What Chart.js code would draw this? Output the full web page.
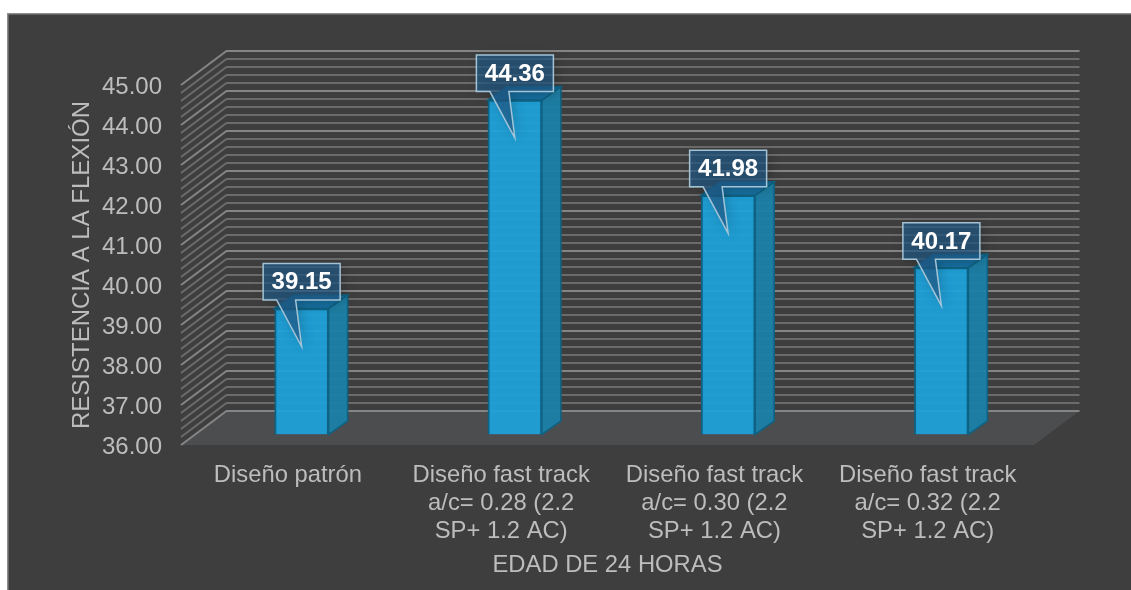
<!DOCTYPE html>
<html lang="es">
<head>
<meta charset="utf-8">
<title>Resistencia a la flexión</title>
<script src="https://cdn.jsdelivr.net/npm/chart.js@4"></script>
<style>
  html, body { margin: 0; padding: 0; background: #ffffff; overflow: hidden; }
  #wrap { position: relative; width: 1131px; height: 590px; }
  canvas { display: block; }
</style>
</head>
<body>
<div id="wrap"><canvas id="chart" width="1131" height="590"></canvas></div>
<script>
const categories = [
  'Diseño patrón',
  ['Diseño fast track', 'a/c= 0.28 (2.2', 'SP+ 1.2 AC)'],
  ['Diseño fast track', 'a/c= 0.30 (2.2', 'SP+ 1.2 AC)'],
  ['Diseño fast track', 'a/c= 0.32 (2.2', 'SP+ 1.2 AC)']
];
const resistencia = [39.15, 44.36, 41.98, 40.17];
const axisMin = 36;
const axisMax = 45;
const yAxisTitle = 'RESISTENCIA A LA FLEXIÓN';
const xAxisTitle = 'EDAD DE 24 HORAS';

const FONT = '"Liberation Sans", Arial, sans-serif';
const TEXT = '#bdbdbd';
const SUBDIVISIONS = 5;            // minor gridlines per unit
const WALL = { dx: 45.5, dy: -34 };  // floor depth, front edge to back wall
const BAR_SHIFT = { dx: 14, dy: -10.5 }; // bars stand partway into the floor
const BAR_DEPTH = { dx: 19, dy: -13.5 };

function poly(ctx, pts, fill, stroke, lw) {
  ctx.beginPath();
  pts.forEach((p, i) => i ? ctx.lineTo(p[0], p[1]) : ctx.moveTo(p[0], p[1]));
  ctx.closePath();
  if (fill) { ctx.fillStyle = fill; ctx.fill(); }
  if (stroke) { ctx.strokeStyle = stroke; ctx.lineWidth = lw; ctx.stroke(); }
}

// Panel, floor and the two gridded walls, all placed from the value scale
const stage = {
  id: 'stage',
  beforeDraw(chart) {
    const { ctx, chartArea: a, scales: { y } } = chart;
    ctx.save();
    ctx.fillStyle = '#8c8c8c';
    ctx.fillRect(7, 13, 1124, 577);
    ctx.fillStyle = '#3e3e3e';
    ctx.fillRect(8.5, 14.5, 1122.5, 575.5);

    const base = y.getPixelForValue(axisMin);
    poly(ctx, [
      [a.left, base], [a.left + WALL.dx, base + WALL.dy],
      [a.right + WALL.dx, base + WALL.dy], [a.right, base]
    ], '#4c4d4f');

    const steps = (axisMax - axisMin) * SUBDIVISIONS;
    for (let i = 0; i <= steps; i++) {
      const py = y.getPixelForValue(axisMin + i / SUBDIVISIONS);
      const major = i % SUBDIVISIONS === 0;
      ctx.beginPath();
      ctx.moveTo(a.left, py);
      ctx.lineTo(a.left + WALL.dx, py + WALL.dy);
      ctx.lineTo(a.right + WALL.dx, py + WALL.dy);
      ctx.strokeStyle = major ? '#858585' : '#6b6b6b';
      ctx.lineWidth = 2;
      ctx.stroke();
    }
    ctx.restore();
  }
};

// Extruded side and top of each bar, drawn from the bar elements themselves
const extrude = {
  id: 'extrude',
  beforeDatasetDraw(chart) {
    const { ctx } = chart;
    ctx.save();
    ctx.translate(BAR_SHIFT.dx, BAR_SHIFT.dy);
    chart.getDatasetMeta(0).data.forEach(bar => {
      const l = bar.x - bar.width / 2, r = bar.x + bar.width / 2;
      const t = bar.y, b = bar.base;
      const d = BAR_DEPTH;
      poly(ctx, [[r, t], [r + d.dx, t + d.dy], [r + d.dx, b + d.dy], [r, b]],
        'rgba(27,128,167,0.95)', '#0f6283', 1.6);
      poly(ctx, [[l, t], [l + d.dx, t + d.dy], [r + d.dx, t + d.dy], [r, t]],
        '#176f9f', '#0f6283', 1.6);
    });
  },
  afterDatasetDraw(chart) {
    chart.ctx.restore();
  }
};

// Value callouts above the bars
const callouts = {
  id: 'callouts',
  afterDatasetsDraw(chart) {
    const { ctx } = chart;
    chart.getDatasetMeta(0).data.forEach((bar, i) => {
      const cx = bar.x + BAR_SHIFT.dx, top = bar.y + BAR_SHIFT.dy;
      const w = 77, h = 36.5;
      const x0 = cx - w / 2, y0 = top - 8.5 - h, y1 = top - 8.5;
      const outline = [
        [x0, y0], [x0 + w, y0], [x0 + w, y1],
        [cx - 6, y1], [cx, top + 38], [cx - 25, y1], [x0, y1]
      ];
      ctx.save();
      ctx.shadowColor = 'rgba(0,0,0,0.3)';
      ctx.shadowBlur = 12;
      ctx.shadowOffsetX = 3;
      ctx.shadowOffsetY = 3;
      poly(ctx, outline, 'rgba(34,90,135,0.68)');
      ctx.restore();
      ctx.save();
      poly(ctx, outline, null, '#a3c3d6', 1.5);
      ctx.fillStyle = '#ffffff';
      ctx.font = 'bold 24px ' + FONT;
      ctx.textAlign = 'center';
      ctx.textBaseline = 'middle';
      ctx.fillText(resistencia[i].toFixed(2), cx, (y0 + y1) / 2 + 1);
      ctx.restore();
    });
  }
};

new Chart(document.getElementById('chart'), {
  type: 'bar',
  data: {
    labels: categories,
    datasets: [{
      data: resistencia,
      base: axisMin,
      backgroundColor: 'rgba(29,163,219,0.93)',
      borderColor: '#0f6283',
      borderWidth: 2,
      barThickness: 54
    }]
  },
  plugins: [stage, extrude, callouts],
  options: {
    responsive: false,
    animation: false,
    layout: { padding: { left: 0, right: 97, top: 85, bottom: 0 } },
    plugins: { legend: { display: false }, tooltip: { enabled: false } },
    scales: {
      x: {
        grid: { display: false, drawTicks: false },
        border: { display: false },
        ticks: {
          color: TEXT, padding: 16, labelOffset: 0.3, maxRotation: 0, autoSkip: false,
          font: { family: FONT, size: 23.8, lineHeight: 1.176 }
        },
        title: {
          display: true, text: xAxisTitle, color: TEXT,
          font: { family: FONT, size: 23.8, lineHeight: 1.176 },
          padding: { top: 0, bottom: 11 }
        },
        afterFit(scale) {
          scale.height = 145;
          scale.paddingLeft = scale.paddingRight = 0;
        }
      },
      y: {
        min: axisMin,
        max: axisMax,
        grid: { display: false, drawTicks: false },
        border: { display: false },
        ticks: {
          stepSize: 1, color: TEXT, padding: 19, labelOffset: 2,
          font: { family: FONT, size: 24 },
          callback: v => v.toFixed(2)
        },
        title: {
          display: true, text: yAxisTitle, color: TEXT,
          font: { family: FONT, size: 24, lineHeight: 1.176 },
          padding: { top: 68, bottom: 0 }
        },
        afterFit(scale) {
          scale.width = 181;
          scale.paddingTop = scale.paddingBottom = 0;
        }
      }
    }
  }
});
</script>
</body>
</html>
